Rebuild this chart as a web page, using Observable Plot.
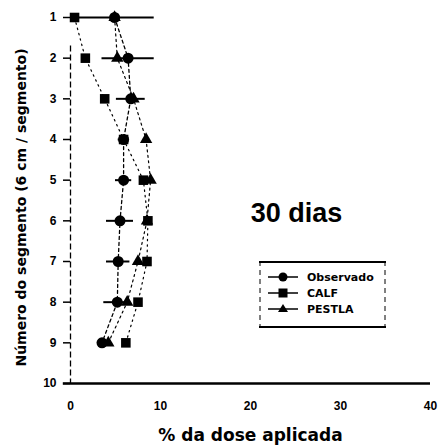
<!DOCTYPE html>
<html>
<head>
<meta charset="utf-8">
<script src="https://cdn.jsdelivr.net/npm/d3@7"></script>
<script src="https://cdn.jsdelivr.net/npm/@observablehq/plot@0.6"></script>
<style>
  html, body { margin: 0; padding: 0; background: #fff; }
  #wrap { position: relative; width: 439px; height: 446px; }
  #legend { position: absolute; left: 259px; top: 261px; }
</style>
</head>
<body>
<div id="wrap"></div>
<script>
const segments = [1, 2, 3, 4, 5, 6, 7, 8, 9];
const observado = [4.9, 6.4, 6.7, 5.9, 5.9, 5.5, 5.3, 5.2, 3.5];
const observadoErr = [4.4, 2.9, 1.6, 0.6, 0.9, 1.5, 1.3, 1.5, 0.5];
const calf = [0.45, 1.65, 3.8, 5.9, 8.1, 8.6, 8.5, 7.5, 6.15];
const pestla = [4.9, 5.2, 7.0, 8.4, 8.9, 8.5, 7.5, 6.3, 4.2];
const xTicks = [0, 10, 20, 30, 40];
const yTicks = [1, 2, 3, 4, 5, 6, 7, 8, 9, 10];
const seriesNames = ["Observado", "CALF", "PESTLA"];

const obsData = segments.map((s, i) => ({segment: s, value: observado[i], lo: observado[i] - observadoErr[i], hi: observado[i] + observadoErr[i]}));
const calfData = segments.map((s, i) => ({segment: s, value: calf[i]}));
const pestlaData = segments.map((s, i) => ({segment: s, value: pestla[i]}));

const chart = Plot.plot({
  width: 439,
  height: 446,
  marginLeft: 70,
  marginRight: 9,
  marginTop: 17,
  marginBottom: 63,
  style: {fontFamily: "'Liberation Sans', Arial, sans-serif", fontWeight: "bold", fontSize: "12px", color: "#000", background: "#fff"},
  x: {domain: [0, 40]},
  y: {domain: [1, 10], reverse: true},
  marks: [
    Plot.ruleX([0], {y1: 1.7, y2: 10, stroke: "#000", strokeWidth: 1.3, strokeDasharray: "6,3"}),
    Plot.ruleY([10], {x1: -0.8, x2: 40, stroke: "#000", strokeWidth: 2.6}),
    Plot.axisY({ticks: yTicks, tickSize: 7, tickPadding: 7, tickFormat: d => String(d), label: null, fontSize: 12, strokeWidth: 1.5}),
    Plot.axisX({ticks: xTicks, tickSize: 0, tickPadding: 18, label: null, fontSize: 12}),
    Plot.line(calfData, {x: "value", y: "segment", stroke: "#000", strokeWidth: 1.2, strokeDasharray: "1.5,4"}),
    Plot.line(pestlaData, {x: "value", y: "segment", stroke: "#000", strokeWidth: 1.2, strokeDasharray: "2,3.5"}),
    Plot.line(obsData, {x: "value", y: "segment", stroke: "#000", strokeWidth: 1.3, strokeDasharray: "3,3"}),
    Plot.ruleY(obsData, {y: "segment", x1: "lo", x2: "hi", stroke: "#000", strokeWidth: 2}),
    Plot.dot(pestlaData, {x: "value", y: "segment", symbol: "triangle", fill: "#000", r: 4.6}),
    Plot.dot(calfData, {x: "value", y: "segment", symbol: "square", fill: "#000", r: 5.4}),
    Plot.dot(obsData, {x: "value", y: "segment", symbol: "circle", fill: "#000", r: 5.5}),
    Plot.text(["30 dias"], {frameAnchor: "top-right", dx: -134, dy: 185, textAnchor: "middle", fontSize: 27, fontWeight: "bold", fontFamily: "'Liberation Sans', Arial, sans-serif"}),
    Plot.text(["% da dose aplicada"], {frameAnchor: "bottom", dy: 57, textAnchor: "middle", fontSize: 17, fontWeight: "bold", fontFamily: "'DejaVu Sans', sans-serif"}),
    Plot.text(["Número do segmento (6 cm / segmento)"], {frameAnchor: "left", dx: -49, dy: 7, textAnchor: "middle", rotate: -90, fontSize: 14, fontWeight: "bold", fontFamily: "'DejaVu Sans', sans-serif"})
  ]
});
document.getElementById("wrap").appendChild(chart);

// Legend
const legend = document.createElement("div");
legend.id = "legend";
const symbols = ["circle", "square", "triangle"];
const lw = 127, lh = 67;
let svg = `<svg width="${lw}" height="${lh}" xmlns="http://www.w3.org/2000/svg" style="font-family:'DejaVu Sans',sans-serif;font-weight:bold;font-size:11px">`;
svg += `<line x1="0" y1="1" x2="${lw}" y2="1" stroke="#000" stroke-width="2"/>`;
svg += `<line x1="0" y1="${lh-1}" x2="${lw}" y2="${lh-1}" stroke="#000" stroke-width="2"/>`;
svg += `<line x1="1" y1="0" x2="1" y2="${lh}" stroke="#000" stroke-width="1" stroke-dasharray="5,4"/>`;
svg += `<line x1="${lw-1}" y1="0" x2="${lw-1}" y2="${lh}" stroke="#000" stroke-width="1" stroke-dasharray="5,4"/>`;
seriesNames.forEach((name, i) => {
  const y = 16 + i * 16;
  svg += `<line x1="9" y1="${y}" x2="39" y2="${y}" stroke="#000" stroke-width="1.5"/>`;
  const cx = 24;
  if (symbols[i] === "circle") svg += `<circle cx="${cx}" cy="${y}" r="4.5" fill="#000"/>`;
  else if (symbols[i] === "square") svg += `<rect x="${cx-4.5}" y="${y-4.5}" width="9" height="9" fill="#000"/>`;
  else svg += `<path d="M${cx},${y-5} L${cx+5},${y+3} L${cx-5},${y+3} Z" fill="#000"/>`;
  svg += `<text x="48" y="${y+4}">${name}</text>`;
});
svg += `</svg>`;
legend.innerHTML = svg;
document.getElementById("wrap").appendChild(legend);
</script>
</body>
</html>
